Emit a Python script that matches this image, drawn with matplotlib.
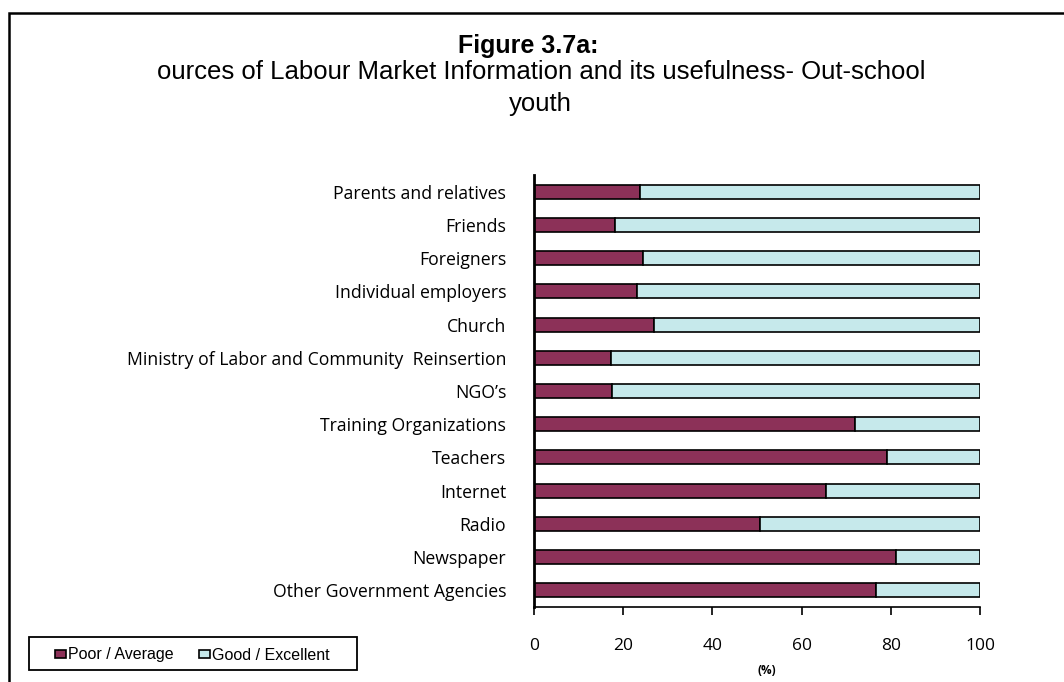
import matplotlib
matplotlib.use("Agg")
import matplotlib.pyplot as plt
from matplotlib.patches import Rectangle

categories = [
    "Parents and relatives",
    "Friends",
    "Foreigners",
    "Individual employers",
    "Church",
    "Ministry of Labor and Community  Reinsertion",
    "NGO\u2019s",
    "Training Organizations",
    "Teachers",
    "Internet",
    "Radio",
    "Newspaper",
    "Other Government Agencies",
]
poor_average = [23.8, 18.2, 24.4, 23.2, 26.8, 17.2, 17.6, 72.0, 79.1, 65.4, 50.7, 81.2, 76.7]
good_excellent = [100 - v for v in poor_average]
x_ticks = [0, 20, 40, 60, 80, 100]
series_names = ["Poor / Average", "Good / Excellent"]

W, H = 1064, 682
fig = plt.figure(figsize=(W / 100, H / 100), dpi=100)
fig.patch.set_facecolor("white")


def fx(px):
    return px / W


def fy(py):
    return 1 - py / H


# outer frame of the chart area (runs past the right and bottom edges of the image)
fig.add_artist(Rectangle((fx(9), fy(700)), fx(1080) - fx(9), fy(12.5) - fy(700),
                         transform=fig.transFigure, fill=False, edgecolor="black", linewidth=1.8))

ax = fig.add_axes([fx(534), fy(607), fx(980) - fx(534), fy(175) - fy(607)])
ypos = list(range(len(categories)))[::-1]
c_poor = "#8C3158"
c_good = "#C6E9EB"
ax.barh(ypos, poor_average, height=0.42, color=c_poor, edgecolor="black", linewidth=1.2,
        label=series_names[0])
ax.barh(ypos, good_excellent, left=poor_average, height=0.42, color=c_good, edgecolor="black",
        linewidth=1.2, label=series_names[1])

ax.set_xlim(0, 100)
ax.set_ylim(-0.5, len(categories) - 0.5)
ax.set_yticks(ypos)
ax.set_yticklabels(categories, fontsize=12.7, family="Open Sans")
ax.set_xticks(x_ticks)
ax.set_xticklabels([str(t) for t in x_ticks], fontsize=12.5, family="Open Sans")
ax.tick_params(axis="y", length=0, pad=20)
ax.tick_params(axis="x", direction="out", length=6, width=1.2, pad=16)
for s in ["top", "right"]:
    ax.spines[s].set_visible(False)
ax.spines["left"].set_linewidth(2)
ax.spines["bottom"].set_linewidth(1.2)
ax.set_xlabel("(%)", fontsize=8.5, fontweight="bold", family="Open Sans")
ax.xaxis.set_label_coords((767 - 534) / (980 - 534), -(670 - 607) / (607 - 175))
ax.xaxis.label.set_va("center")

fig.text(fx(528), fy(53), "Figure 3.7a:", ha="center", va="baseline", fontsize=18,
         fontweight="bold", family="Liberation Sans")
fig.text(fx(541), fy(79), "ources of Labour Market Information and its usefulness- Out-school",
         ha="center", va="baseline", fontsize=18.5, family="Liberation Sans")
fig.text(fx(540), fy(111), "youth", ha="center", va="baseline", fontsize=18.5,
         family="Liberation Sans")

# legend box with the two series swatches
fig.add_artist(Rectangle((fx(29), fy(670)), fx(357) - fx(29), fy(637) - fy(670),
                         transform=fig.transFigure, fill=False, edgecolor="black", linewidth=1.3))
fig.legend(loc="center left", bbox_to_anchor=(fx(55), fy(655)), ncol=2, frameon=False,
           handlelength=0.7, handleheight=0.45, handletextpad=0.1, columnspacing=1.6,
           prop={"family": "Liberation Sans", "size": 11.5}, borderpad=0, borderaxespad=0)

fig.savefig("out.png", dpi=100)
